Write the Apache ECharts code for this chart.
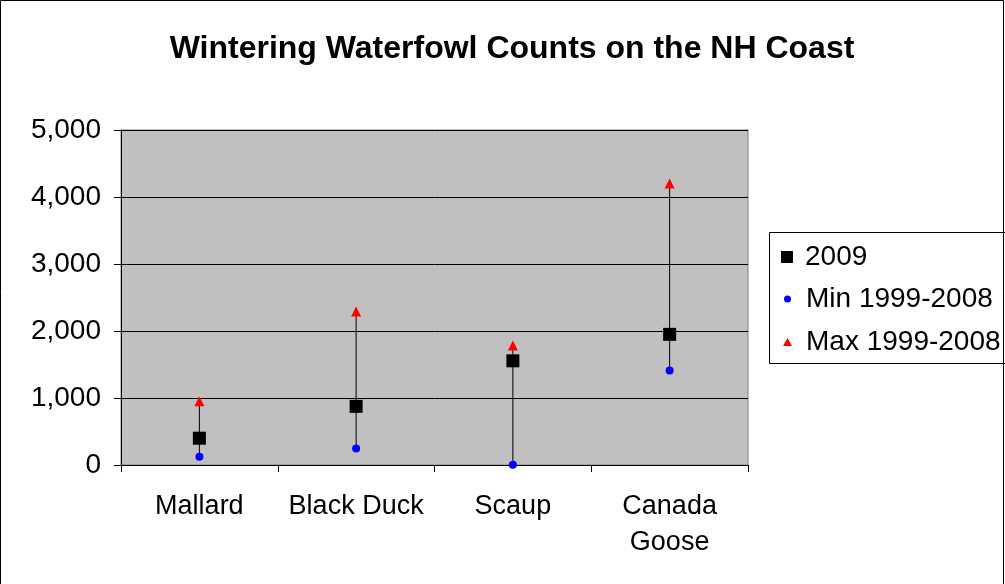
<!DOCTYPE html>
<html><head><meta charset="utf-8">
<script src="https://cdn.jsdelivr.net/npm/echarts@6/dist/echarts.min.js"></script>
<style>html,body{margin:0;padding:0;background:#fff}#c{width:1005px;height:584px}</style>
</head><body><div id="c"></div>
<script>
var categories = ['Mallard', 'Black Duck', 'Scaup', 'Canada\nGoose'];
var count2009 = [400, 875, 1555, 1950];
var min19992008 = [125, 245, 5, 1410];
var max19992008 = [950, 2290, 1785, 4200];
var yTicks = [0, 1000, 2000, 3000, 4000, 5000];

var FONT = '"Liberation Sans", Arial, sans-serif';
var chart = echarts.init(document.getElementById('c'));
var rangeData = categories.map(function (c, i) { return [i, min19992008[i], max19992008[i]]; });

chart.setOption({
  animation: false,
  backgroundColor: '#ffffff',
  title: {
    text: 'Wintering Waterfowl Counts on the NH Coast',
    left: 512, top: 28, textAlign: 'center',
    textStyle: { fontFamily: FONT, fontWeight: 'bold', fontSize: 32, color: '#000' },
    padding: [5, 10, 5, 0]
  },
  graphic: [
    { type: 'rect', shape: { x: 0.5, y: 0.5, width: 1003, height: 600 }, style: { fill: 'none', stroke: '#000', lineWidth: 1 }, silent: true },
    { type: 'rect', shape: { x: 769.5, y: 232.5, width: 300, height: 131 }, style: { fill: 'none', stroke: '#000', lineWidth: 1 }, silent: true }
  ],
  legend: [
    { data: ['2009'], left: 781, top: 242, padding: 0, icon: 'rect', itemWidth: 12, itemHeight: 12,
      textStyle: { fontFamily: FONT, fontSize: 28, color: '#000', lineHeight: 30, padding: [0, 0, 0, 7] } },
    { data: ['Min 1999-2008'], left: 784, top: 284, padding: 0, icon: 'circle', itemWidth: 7, itemHeight: 7,
      textStyle: { fontFamily: FONT, fontSize: 28, color: '#000', lineHeight: 30, padding: [0, 0, 0, 10] } },
    { data: ['Max 1999-2008'], left: 783, top: 327, padding: 0, icon: 'triangle', itemWidth: 9, itemHeight: 8,
      textStyle: { fontFamily: FONT, fontSize: 28, color: '#000', lineHeight: 30, padding: [0, 0, 0, 9] } }
  ],
  grid: { left: 121, right: 257, top: 130, bottom: 119, show: true, backgroundColor: '#C0C0C0', borderColor: '#808080', borderWidth: 1 },
  xAxis: {
    type: 'category', data: categories, boundaryGap: true,
    axisLine: { lineStyle: { color: '#000', width: 1 } },
    axisTick: { show: true, interval: 0, alignWithLabel: false, length: 7, lineStyle: { color: '#000' } },
    axisLabel: { interval: 0, fontFamily: FONT, fontSize: 27, color: '#000', margin: 24, lineHeight: 36 }
  },
  yAxis: {
    type: 'value', min: yTicks[0], max: yTicks[yTicks.length - 1], interval: 1000,
    axisLine: { show: true, lineStyle: { color: '#000', width: 1 } },
    axisTick: { show: true, length: 7, lineStyle: { color: '#000' } },
    splitLine: { show: true, lineStyle: { color: '#000', width: 1 } },
    axisLabel: { fontFamily: FONT, fontSize: 28, color: '#000', margin: 20,
      formatter: function (v) { return v.toLocaleString('en-US'); } }
  },
  series: [
    { type: 'custom', name: 'range', data: rangeData, encode: { x: 0, y: [1, 2] }, z: 1, silent: true,
      renderItem: function (params, api) {
        var a = api.coord([api.value(0), api.value(1)]);
        var b = api.coord([api.value(0), api.value(2)]);
        return { type: 'line', shape: { x1: a[0], y1: a[1], x2: b[0], y2: b[1] }, style: { stroke: '#000', lineWidth: 1 } };
      } },
    { type: 'scatter', name: '2009', data: count2009, symbol: 'rect', symbolSize: 13, itemStyle: { color: '#000', opacity: 1 }, z: 3 },
    { type: 'scatter', name: 'Min 1999-2008', data: min19992008, symbol: 'circle', symbolSize: 8, itemStyle: { color: '#0000FF', opacity: 1 }, z: 3 },
    { type: 'scatter', name: 'Max 1999-2008', data: max19992008, symbol: 'triangle', symbolSize: [10, 10], itemStyle: { color: '#FF0000', opacity: 1 }, z: 3 }
  ]
});
</script></body></html>
